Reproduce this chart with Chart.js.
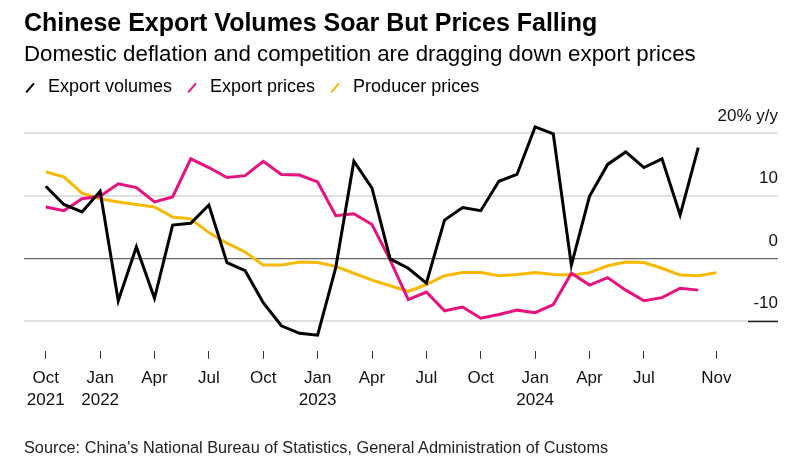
<!DOCTYPE html>
<html>
<head>
<meta charset="utf-8">
<title>Chinese Export Volumes Soar But Prices Falling</title>
<script src="https://cdn.jsdelivr.net/npm/chart.js@4.4.1/dist/chart.umd.min.js"></script>
<style>
  body { margin: 0; background: #fff; font-family: 'Liberation Sans', Arial, sans-serif; }
  #wrap { position: relative; width: 794px; height: 465px; overflow: hidden; }
  #chart { position: absolute; left: 0; top: 0; }
  .txt { position: absolute; left: 24px; white-space: nowrap; color: #000; }
  #title { top: 9.5px; font-size: 25px; line-height: 25px; font-weight: bold; }
  #subtitle { top: 43.4px; font-size: 22.3px; line-height: 22.3px; }
  #legend { top: 76.5px; left: 26px; font-size: 18px; line-height: 18px; display: flex; align-items: flex-start; }
  #legend .item { display: flex; align-items: flex-start; margin-right: 16px; }
  #legend .icon { position: relative; display: inline-block; width: 8px; height: 18px; margin-right: 14px; }
  #legend .icon span { position: absolute; left: 2.8px; top: 5px; width: 2.4px; height: 12px; transform: rotate(40deg); }
  #source { top: 438.9px; font-size: 16.3px; line-height: 16.3px; color: #222; }
</style>
</head>
<body>
<div id="wrap">
  <canvas id="chart" width="794" height="465"></canvas>
  <div class="txt" id="title">Chinese Export Volumes Soar But Prices Falling</div>
  <div class="txt" id="subtitle">Domestic deflation and competition are dragging down export prices</div>
  <div class="txt" id="legend"></div>
  <div class="txt" id="source">Source: China's National Bureau of Statistics, General Administration of Customs</div>
</div>
<script>
// monthly, % y/y
var months = [
  'Oct 2021', 'Nov 2021', 'Dec 2021',
  'Jan 2022', 'Feb 2022', 'Mar 2022', 'Apr 2022', 'May 2022', 'Jun 2022',
  'Jul 2022', 'Aug 2022', 'Sep 2022', 'Oct 2022', 'Nov 2022', 'Dec 2022',
  'Jan 2023', 'Feb 2023', 'Mar 2023', 'Apr 2023', 'May 2023', 'Jun 2023',
  'Jul 2023', 'Aug 2023', 'Sep 2023', 'Oct 2023', 'Nov 2023', 'Dec 2023',
  'Jan 2024', 'Feb 2024', 'Mar 2024', 'Apr 2024', 'May 2024', 'Jun 2024',
  'Jul 2024', 'Aug 2024', 'Sep 2024', 'Oct 2024', 'Nov 2024'
];

var exportVolumes = [11.5, 8.6, 7.4, 10.7, -6.8, 1.8, -6.4, 5.3, 5.6, 8.5, -0.7, -2.0,
  -7.1, -10.8, -12.0, -12.3, -1.5, 15.5, 11.2, -0.1, -1.6, -4.0, 6.1, 8.1,
  7.6, 12.3, 13.4, 21.0, 19.9, -1.1, 9.9, 15.0, 17.0, 14.5, 15.9, 6.9, 17.7];

var exportPrices = [8.2, 7.6, 9.5, 9.9, 11.9, 11.3, 9.0, 9.8, 15.9, 14.5, 12.9, 13.2,
  15.5, 13.4, 13.3, 12.2, 6.8, 7.1, 5.4, -0.3, -6.6, -5.4, -8.4, -7.8,
  -9.6, -9.0, -8.3, -8.7, -7.4, -2.4, -4.3, -3.1, -5.1, -6.8, -6.3, -4.8, -5.1];

var producerPrices = [13.8, 13.0, 10.4, 9.5, 9.0, 8.6, 8.2, 6.6, 6.3, 4.1, 2.4, 1.0,
  -1.1, -1.1, -0.6, -0.7, -1.3, -2.4, -3.5, -4.4, -5.3, -4.2, -2.8, -2.3,
  -2.3, -2.8, -2.6, -2.3, -2.6, -2.7, -2.3, -1.2, -0.6, -0.7, -1.6, -2.7, -2.8, -2.3];

var seriesNames = ['Export volumes', 'Export prices', 'Producer prices'];
var seriesColors = ['#000000', '#e8117f', '#f9b800'];

var yTicks = [-10, 0, 10, 20];
var tickMonths = ['Oct 2021', 'Jan 2022', 'Apr 2022', 'Jul 2022', 'Oct 2022', 'Jan 2023',
  'Apr 2023', 'Jul 2023', 'Oct 2023', 'Jan 2024', 'Apr 2024', 'Jul 2024', 'Nov 2024'];
var tickLabels = [['Oct', '2021'], ['Jan', '2022'], 'Apr', 'Jul', 'Oct', ['Jan', '2023'],
  'Apr', 'Jul', 'Oct', ['Jan', '2024'], 'Apr', 'Jul', 'Nov'];

function toPoints(values) {
  return values.map(function(v, i) {
    return { x: i, y: v };
  });
}

function buildLegend() {
  var legend = document.getElementById('legend');
  for (var i = 0; i < seriesNames.length; i++) {
    var item = document.createElement('div');
    item.className = 'item';
    item.innerHTML = '<span class="icon"><span style="background:' + seriesColors[i] + '"></span></span>' +
      '<span>' + seriesNames[i] + '</span>';
    legend.appendChild(item);
  }
}

// dark stub on the right end of the lowest gridline
var axisStub = {
  id: 'axisStub',
  beforeDatasetsDraw: function(chart) {
    var ctx = chart.ctx;
    var area = chart.chartArea;
    var y = Math.round(chart.scales.y.getPixelForValue(yTicks[0])) + 0.5;
    ctx.save();
    ctx.strokeStyle = '#222';
    ctx.lineWidth = 1.5;
    ctx.beginPath();
    ctx.moveTo(area.right - 30, y);
    ctx.lineTo(area.right, y);
    ctx.stroke();
    ctx.restore();
  }
};

Chart.defaults.font.family = "'Liberation Sans', Arial, sans-serif";
Chart.defaults.color = '#111';

var allSeries = [exportVolumes, exportPrices, producerPrices];
var datasets = allSeries.map(function(values, i) {
  return {
    label: seriesNames[i],
    data: toPoints(values),
    borderColor: seriesColors[i],
    backgroundColor: seriesColors[i],
    borderWidth: 3,
    pointRadius: 0,
    tension: 0,
    fill: false
  };
});

buildLegend();

new Chart(document.getElementById('chart'), {
  type: 'line',
  data: { datasets: datasets },
  plugins: [axisStub],
  options: {
    responsive: false,
    devicePixelRatio: 1,
    animation: false,
    layout: { padding: { top: 120, left: 24, right: 16, bottom: 46 } },
    plugins: {
      legend: { display: false },
      tooltip: { enabled: false }
    },
    scales: {
      x: {
        type: 'linear',
        min: -1.2,
        max: 40.4,
        afterBuildTicks: function(scale) {
          scale.ticks = tickMonths.map(function(m) {
            return { value: months.indexOf(m) };
          });
        },
        border: { display: false },
        grid: {
          drawOnChartArea: false,
          drawTicks: true,
          tickLength: 8,
          color: '#333',
          lineWidth: 1
        },
        ticks: {
          autoSkip: false,
          maxRotation: 0,
          padding: 8,
          color: '#111',
          font: { size: 17, lineHeight: 1.3 },
          callback: function(value, index) {
            return tickLabels[index];
          }
        }
      },
      y: {
        type: 'linear',
        position: 'right',
        min: -14.8,
        max: 22.1,
        afterBuildTicks: function(scale) {
          scale.ticks = yTicks.map(function(v) {
            return { value: v };
          });
        },
        border: { display: false },
        grid: {
          drawTicks: false,
          color: function(c) {
            return c.tick && c.tick.value === 0 ? '#666' : '#e0e0e0';
          },
          lineWidth: function(c) {
            return c.tick && c.tick.value === 0 ? 1.2 : 2;
          }
        },
        ticks: {
          mirror: true,
          padding: 0,
          labelOffset: -17,
          color: '#111',
          font: { size: 17 },
          callback: function(value) {
            return value === 20 ? '20% y/y' : String(value);
          }
        }
      }
    }
  }
});
</script>
</body>
</html>
